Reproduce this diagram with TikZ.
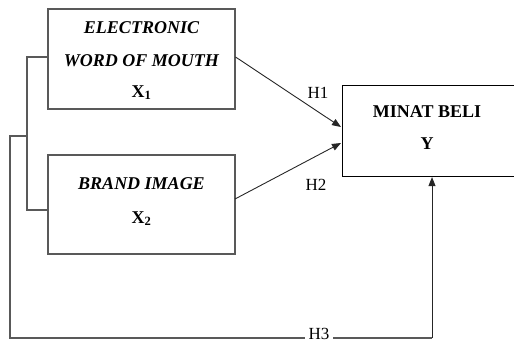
\documentclass[tikz,border=0pt]{standalone}
\usepackage{fontspec}
\setmainfont{Liberation Serif}
\usetikzlibrary{arrows.meta}
\begin{document}
\begin{tikzpicture}[x=1pt,y=-1pt,
  box/.style={draw=black!65,line width=1.1pt},
  ybox/.style={draw=black,line width=1.1pt},
  conn/.style={draw=black!65,line width=1.1pt},
  arr/.style={draw=black!85,line width=0.9pt,-{Triangle[length=9pt,width=7pt]}},
  txt/.style={font=\fontsize{18}{20}\selectfont,anchor=base,inner sep=0pt},
  lbl/.style={font=\fontsize{17}{20}\selectfont,anchor=base,inner sep=0pt}]
\useasboundingbox (0,0) rectangle (514,343);
\clip (0,0) rectangle (514,343);
% boxes
\node[box,minimum width=187pt,minimum height=100pt,inner sep=0pt] (x1) at (141.5,59) {};
\node[box,minimum width=187pt,minimum height=99pt,inner sep=0pt] (x2) at (141.5,204.5) {};
\node[ybox,minimum width=190pt,minimum height=91pt,inner sep=0pt,anchor=north west] (y) at (342,85) {};
% texts
\node[txt] (t1a) at (141.5,33) {\bfseries\itshape ELECTRONIC};
\node[txt] (t1b) at (141.5,66) {\bfseries\itshape WORD OF MOUTH};
\node[txt] (t1c) at (141.5,97) {\bfseries X\textsubscript{1}};
\node[txt] (t2a) at (141.5,189) {\bfseries\itshape BRAND IMAGE};
\node[txt] (t2b) at (141.5,223) {\bfseries X\textsubscript{2}};
\node[txt] (t3a) at (427,117) {\bfseries MINAT BELI};
\node[txt] (t3b) at (427,149) {\bfseries Y};
% labels
\node[lbl] (h1) at (318,98) {H1};
\node[lbl] (h2) at (316,190) {H2};
% bracket
\coordinate (b1) at (27,57);
\coordinate (b2) at (27,210);
\coordinate (b3) at (27,136);
\coordinate (c1) at (10,136);
\coordinate (c2) at (10,338);
\coordinate (c3) at (432,338);
\draw[conn] (x1.west |- b1) -- (b1) -- (b2) -- (x2.west |- b2);
\draw[conn] (b3) -- (c1) -- (c2) -- (c3);
\draw[arr] (c3) -- (y.south -| c3);
\node[lbl,fill=white,inner xsep=4pt] (h3) at (319,339.5) {H3};
% arrows
\draw[arr] (x1.east |- b1) -- (341,127);
\draw[arr] (235,199) -- (341,143);
\end{tikzpicture}
\end{document}
